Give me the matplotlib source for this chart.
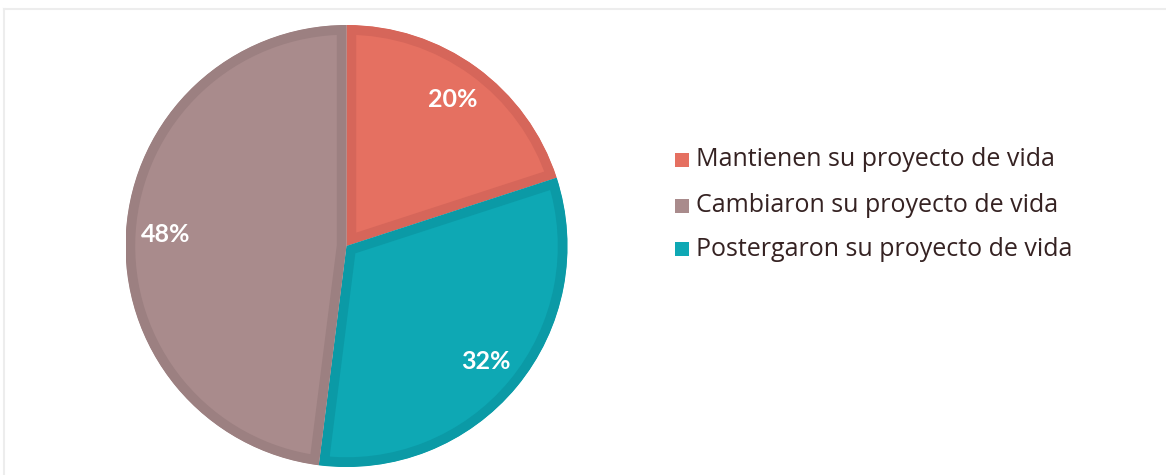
import matplotlib
matplotlib.use("Agg")
import matplotlib.pyplot as plt
from matplotlib.patches import Rectangle

# Data (clockwise from top)
categories = ["Mantienen su proyecto de vida", "Postergaron su proyecto de vida", "Cambiaron su proyecto de vida"]
values = [20, 32, 48]
colors = ["#E57061", "#0EA8B4", "#A98B8C"]
edge_colors = ["#D6665A", "#0B9AA6", "#9C8081"]
legend_order = ["Mantienen su proyecto de vida", "Cambiaron su proyecto de vida", "Postergaron su proyecto de vida"]

W, H = 1166, 475
fig = plt.figure(figsize=(W / 100, H / 100), dpi=100)
fig.patch.set_facecolor("white")

cx, cy, r = 346.5, 475 - 246, 221
ax = fig.add_axes([(cx - r) / W, (cy - r) / H, 2 * r / W, 2 * r / H])

wedges, texts, autotexts = ax.pie(
    values, colors=colors, startangle=90, counterclock=False,
    autopct="%1.0f%%", pctdistance=0.82, radius=1.0,
    textprops=dict(color="white", fontsize=18, fontweight="bold", family="Lato"),
)
for w, ec in zip(wedges, edge_colors):
    w.set_edgecolor(ec)
    w.set_linewidth(14)
    w.set_clip_on(True)
    w.set_clip_path(w)
ax.set_xlim(-1, 1)
ax.set_ylim(-1, 1)
ax.set_aspect("equal")
ax.axis("off")

# faint outer frame
fig.add_artist(plt.Line2D([4 / W, 1], [1 - 9 / H, 1 - 9 / H], color="#EDEDED", lw=1.5, transform=fig.transFigure))
fig.add_artist(plt.Line2D([4 / W, 4 / W], [0, 1 - 9 / H], color="#EDEDED", lw=1.5, transform=fig.transFigure))

# legend (manual)
color_map = dict(zip(categories, colors))
rows_y = [160, 206, 249]
for lab, y in zip(legend_order, rows_y):
    fig.add_artist(Rectangle((675 / W, 1 - (y + 7) / H), 14 / W, 14 / H,
                             facecolor=color_map[lab], edgecolor="none", transform=fig.transFigure))
    fig.text(696 / W, 1 - y / H, lab, fontsize=18, color="#352222", family="Open Sans",
             va="center", ha="left")

fig.savefig("out.png", dpi=100)
